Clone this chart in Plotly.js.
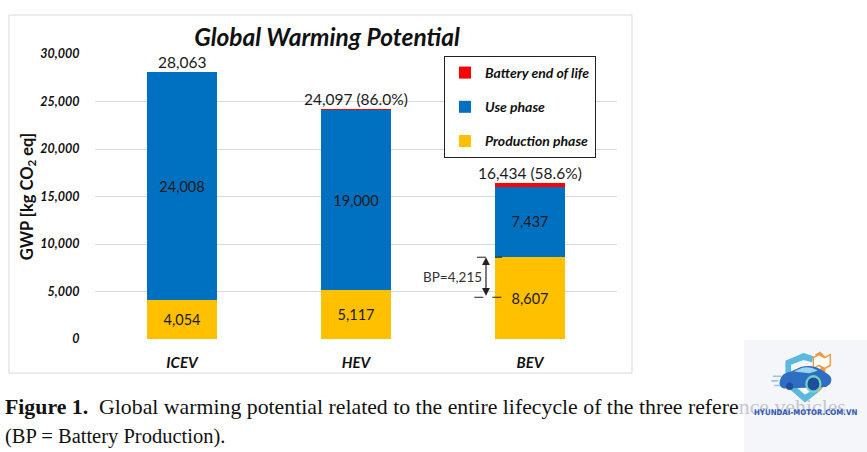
<!DOCTYPE html>
<html>
<head>
<meta charset="utf-8">
<script src="https://cdn.plot.ly/plotly-3.0.1.min.js"></script>
<style>
  html, body { margin: 0; padding: 0; background: #ffffff; }
  #chart { width: 867px; height: 452px; }
</style>
</head>
<body>
<div id="chart"></div>
<script>
// Vehicle categories and lifecycle GWP contributions [kg CO2 eq]
const vehicles = ['ICEV', 'HEV', 'BEV'];
const productionPhase = [4054, 5117, 8607];
const usePhase = [24008, 19000, 7437];
const batteryEndOfLife = [0, 80, 390];
const totalLabels = ['28,063', '24,097 (86.0%)', '16,434 (58.6%)'];
const batteryProduction = 4215;
const yTicks = [0, 5000, 10000, 15000, 20000, 25000, 30000];

const W = 867, H = 452;
const plotL = 95, plotR = 617, plotT = 54, plotB = 339;
const px = x => (x - plotL) / (plotR - plotL);
const py = y => (plotB - y) / (plotB - plotT);

const sans = 'Lato, "Open Sans", sans-serif';
const serif = '"Liberation Serif", "DejaVu Serif", serif';
const labelFont = { family: sans, size: 14.5, color: '#1a1a1a' };

const traces = [
  {
    type: 'bar', name: 'Production phase', x: vehicles, y: productionPhase,
    marker: { color: '#FFC000' }, legendgroup: 'p', legendrank: 3,
    texttemplate: '%{y:,}', textposition: 'inside', insidetextanchor: 'middle',
    textfont: labelFont, hoverinfo: 'skip'
  },
  {
    type: 'bar', name: 'Use phase', x: vehicles, y: usePhase,
    marker: { color: '#0070C0' }, legendgroup: 'u', legendrank: 2,
    texttemplate: '%{y:,}', textposition: 'inside', insidetextanchor: 'middle',
    textfont: labelFont, hoverinfo: 'skip'
  },
  {
    type: 'bar', name: 'Battery end of life', x: vehicles, y: batteryEndOfLife,
    marker: { color: '#FF0000' }, legendgroup: 'b', legendrank: 1,
    textposition: 'none', hoverinfo: 'skip'
  }
];

const totals = vehicles.map((v, i) => productionPhase[i] + usePhase[i] + batteryEndOfLife[i]);

const annotations = totals.map((t, i) => ({
  x: vehicles[i], y: t, xref: 'x', yref: 'y', text: totalLabels[i],
  showarrow: false, yanchor: 'bottom', yshift: -1,
  font: { family: sans, size: 15.5, color: '#1a1a1a' }
}));

// Battery production bracket on the BEV production bar
const bpTop = productionPhase[2];
const bpBottom = productionPhase[2] - batteryProduction;
const bpX = 1.747;
annotations.push({
  x: bpX, y: bpTop, ax: bpX, ay: bpBottom, xref: 'x', yref: 'y', axref: 'x', ayref: 'y',
  showarrow: true, arrowhead: 2, arrowside: 'end+start', arrowsize: 1.3, arrowwidth: 1.2,
  arrowcolor: '#222', text: '', standoff: 0, startstandoff: 0
});
annotations.push({
  x: bpX, y: (bpTop + bpBottom) / 2, xref: 'x', yref: 'y', text: 'BP=4,215',
  showarrow: false, xanchor: 'right', xshift: -2,
  font: { family: sans, size: 13.5, color: '#333' }
});

// Figure caption below the chart; its tail sits under the corner badge
annotations.push({
  xref: 'paper', yref: 'paper', x: px(3), y: py(407), xanchor: 'left', yanchor: 'middle',
  showarrow: false, align: 'left',
  text: '<b>Figure 1.</b>  Global warming potential related to the entire lifecycle of the three refere' +
        '<span style="color:#c4c8cf">nce vehicles</span>',
  font: { family: serif, size: 21.8, color: '#111' }
});
annotations.push({
  xref: 'paper', yref: 'paper', x: px(3), y: py(436), xanchor: 'left', yanchor: 'middle',
  showarrow: false, align: 'left',
  text: '(BP = Battery Production).',
  font: { family: serif, size: 20.5, color: '#111' }
});
// Site mark in the lower right corner
annotations.push({
  xref: 'paper', yref: 'paper', x: px(805), y: py(412), xanchor: 'center', yanchor: 'middle',
  showarrow: false, text: '<b>HYUNDAI-MOTOR.COM.VN</b>',
  font: { family: '"DejaVu Sans Condensed", "Liberation Sans Narrow", sans-serif', size: 7.8, color: '#2f55b8' }
});

const shapes = [
  // chart frame
  { type: 'rect', xref: 'paper', yref: 'paper', x0: px(9), x1: px(632), y0: py(373), y1: py(15),
    line: { color: '#d9d9d9', width: 1 }, fillcolor: 'rgba(0,0,0,0)', layer: 'below' },
  // dashed guides of the BP bracket
  { type: 'line', xref: 'x', yref: 'y', x0: 1.695, x1: 1.84, y0: bpTop, y1: bpTop,
    line: { color: '#222', width: 1, dash: 'dash' } },
  { type: 'line', xref: 'x', yref: 'y', x0: 1.68, x1: 1.86, y0: bpBottom, y1: bpBottom,
    line: { color: '#222', width: 1, dash: 'dash' } },
  // pale backdrop behind the corner badge
  { type: 'rect', xref: 'paper', yref: 'paper', x0: px(744), x1: px(867), y0: py(452), y1: py(340),
    line: { width: 0 }, fillcolor: '#f4f6fa', layer: 'below' }
];

// Small badge drawn as inline SVG: shield, car and book
const badge = "<svg xmlns='http://www.w3.org/2000/svg' viewBox='0 0 100 70'>" +
  "<path d='M22 14 L48 4 L62 8 L60 16 L48 13 L30 19 L30 42 L50 58 L64 50 L70 54 L50 68 L22 46 Z' fill='#5bb8e0'/>" +
  "<path d='M64 6 L72 2 L80 10 L78 46 L70 54 L66 50 L72 42 L72 14 Z' fill='#f29a3a'/>" +
  "<path d='M62 10 L70 6 L78 10 L86 6 L86 20 L78 24 L70 20 L62 24 Z' fill='#ffffff' stroke='#f29a3a' stroke-width='2'/>" +
  "<path d='M14 40 Q16 30 30 28 L44 22 Q60 18 74 26 L84 32 Q90 36 86 44 L80 48 L20 50 Q12 48 14 40 Z' fill='#2e6fc4'/>" +
  "<path d='M34 28 L46 23 Q58 21 68 27 L56 30 Z' fill='#9ad6f0'/>" +
  "<circle cx='62' cy='44' r='10' fill='#1d4f9a' stroke='#6fd3c8' stroke-width='3'/>" +
  "<circle cx='28' cy='47' r='5' fill='#1d4f9a'/>" +
  "<path d='M4 34 L16 34 M2 40 L12 40 M6 46 L14 46' stroke='#9fc3e8' stroke-width='2'/>" +
  "</svg>";

const layout = {
  width: W, height: H,
  margin: { l: plotL, r: W - plotR, t: plotT, b: H - plotB, pad: 0 },
  paper_bgcolor: '#ffffff', plot_bgcolor: '#ffffff',
  barmode: 'stack', bargap: 0.6,
  font: { family: sans, color: '#1a1a1a' },
  title: {
    text: '<b><i>Global Warming Potential</i></b>',
    font: { family: sans, size: 24.5, color: '#111' },
    x: px(327), xref: 'paper', xanchor: 'center',
    y: 1 - 37 / H, yref: 'container', yanchor: 'middle'
  },
  xaxis: {
    type: 'category', showgrid: false, zeroline: false, showline: false,
    ticks: 'outside', ticklen: 10, tickcolor: 'rgba(0,0,0,0)',
    tickfont: { family: sans, size: 15, color: '#111' },
    ticktext: vehicles.map(v => '<b><i>' + v + '</i></b>'), tickvals: vehicles
  },
  yaxis: {
    range: [0, 30000], tickvals: yTicks, tickformat: ',',
    ticktext: yTicks.map(v => '<b><i>' + v.toLocaleString('en-US') + '</i></b>'),
    showgrid: true, gridcolor: '#d9d9d9', gridwidth: 1, zeroline: false, showline: false,
    ticks: 'outside', ticklen: 12, tickcolor: 'rgba(0,0,0,0)',
    tickfont: { family: sans, size: 12.5, color: '#111' },
    title: {
      text: 'GWP [kg CO<sub>2</sub> eq]',
      font: { family: sans, size: 16.5, color: '#111', weight: 'bold' },
      standoff: 2
    }
  },
  showlegend: true,
  legend: {
    x: px(444), y: py(56), xanchor: 'left', yanchor: 'top',
    bgcolor: '#ffffff', bordercolor: '#222', borderwidth: 1,
    traceorder: 'grouped', tracegroupgap: 13, itemwidth: 30,
    font: { family: sans, size: 14, color: '#111', weight: 'bold', style: 'italic' }
  },
  images: [{
    source: 'data:image/svg+xml;charset=utf-8,' + encodeURIComponent(badge),
    xref: 'paper', yref: 'paper', x: px(770), y: py(350), sizex: px(840) - px(770), sizey: py(350) - py(404),
    xanchor: 'left', yanchor: 'top', sizing: 'stretch', layer: 'above'
  }],
  annotations: annotations,
  shapes: shapes
};

Plotly.newPlot('chart', traces, layout, { displayModeBar: false, staticPlot: true });
</script>
</body>
</html>
